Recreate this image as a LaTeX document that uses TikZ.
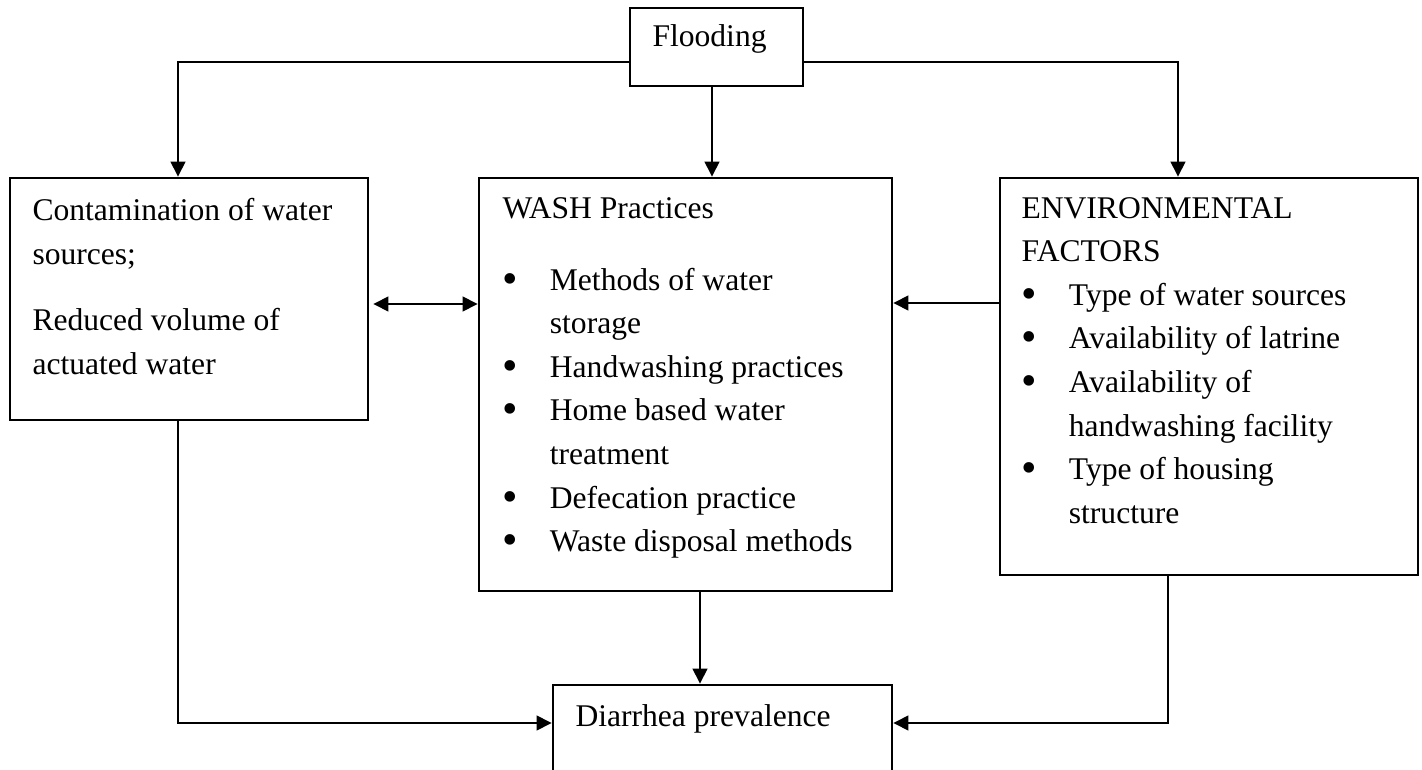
\documentclass[tikz,border=0pt]{standalone}
\usepackage{fontspec}
\setmainfont{Liberation Serif}
\usetikzlibrary{arrows.meta,fit}

\newcommand\bul{\makebox[18pt][l]{\raisebox{-1.2pt}{\scalebox{1.4}{\textbullet}}}}
\newcommand\ind{\hspace*{18pt}}

\begin{document}
\begin{tikzpicture}[x=0.38pt, y=-0.38pt,
        font=\fontsize{12}{16.57}\selectfont,
        box/.style={draw, line width=1pt, inner sep=0pt},
        txt/.style={anchor=base west, inner sep=0pt, align=flush left, text width=160pt},
        arr/.style={-{Triangle[length=5.7pt,width=5.5pt]}, line width=1pt},
        dbl/.style={{Triangle[length=5.7pt,width=5.5pt]}-{Triangle[length=5.7pt,width=5.5pt]}, line width=1pt}]
        \clip (0,0) rectangle (1422,770);

        % Boxes
        \node[box, fit={(630,8) (803,86)}] (flood) {};
        \node[box, fit={(10,178) (368,420)}] (contam) {};
        \node[box, fit={(479,178) (892,591)}] (wash) {};
        \node[box, fit={(1000,178) (1418,575)}] (env) {};
        \node[box, fit={(553,685) (892,800)}] (diarr) {};

        % Texts
        \node[txt] (floodtxt) at (652,47) {Flooding};
        \node[txt] (contamtxt) at (32,221) {Contamination of water\\sources;\\[8.5pt]Reduced volume of\\actuated water};
        \node[txt] (washtxt) at (502,218) {WASH Practices\\[10.8pt]
            \bul Methods of water\\\ind storage\\
            \bul Handwashing practices\\
            \bul Home based water\\\ind treatment\\
            \bul Defecation practice\\
            \bul Waste disposal methods};
        \node[txt] (envtxt) at (1021,218) {ENVIRONMENTAL\\FACTORS\\
            \bul Type of water sources\\
            \bul Availability of latrine\\
            \bul Availability of\\\ind handwashing facility\\
            \bul Type of housing\\\ind structure};
        \node[txt] (diarrtxt) at (575,726) {Diarrhea prevalence};

        % Flooding to the three boxes
        \draw[arr] ([shift={(0,15)}]flood.west) -| ([shift={(-11,0)}]contam.north);
        \draw[arr] ([shift={(0,15)}]flood.east) -| ([shift={(-31,0)}]env.north);
        \coordinate (fb) at ([shift={(-4.5,0)}]flood.south);
        \draw[arr] (fb) -- (fb |- wash.north);

        % Links into WASH
        \coordinate (cr) at ([shift={(4,5)}]contam.east);
        \draw[dbl] (cr) -- (cr -| wash.west);
        \coordinate (el) at ([shift={(0,-73.5)}]env.west);
        \draw[arr] (el) -- (el -| wash.east);

        % Links into diarrhea
        \coordinate (wb) at ([shift={(14.5,0)}]wash.south);
        \draw[arr] (wb) -- (wb |- diarr.north);
        \draw[arr] ([shift={(-11,0)}]contam.south) |- ([shift={(0,-19.5)}]diarr.west);
        \draw[arr] ([shift={(-41,0)}]env.south) |- ([shift={(0,-19.5)}]diarr.east);
\end{tikzpicture}
\end{document}
